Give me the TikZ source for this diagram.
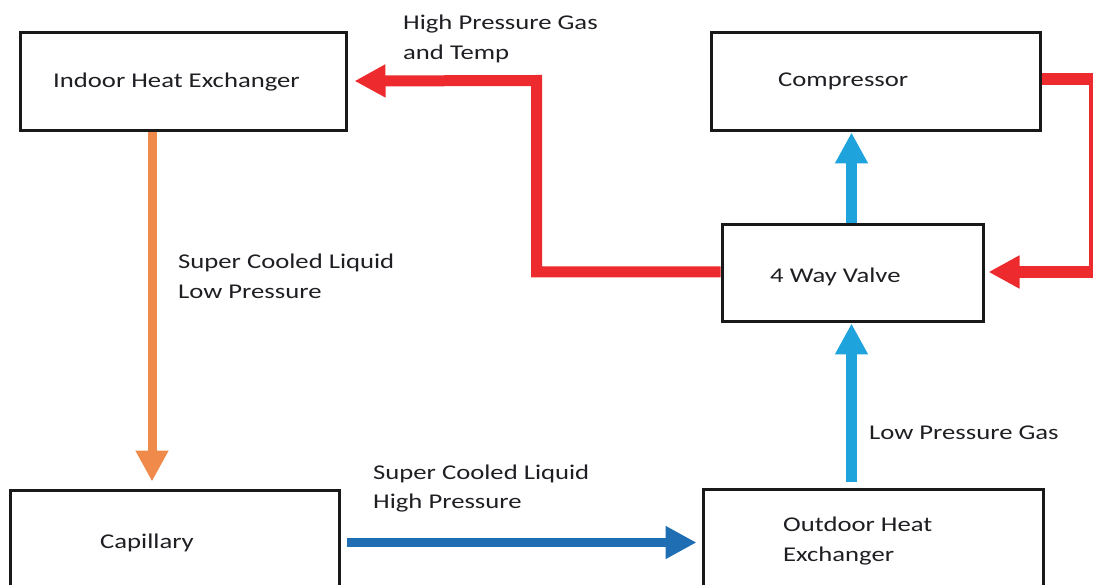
\documentclass[tikz,border=0pt]{standalone}
\usepackage{fontspec}
\setmainfont{Carlito}[FakeStretch=1.27]
\usetikzlibrary{arrows.meta}
\definecolor{cred}{RGB}{237,42,46}
\definecolor{corange}{RGB}{240,138,75}
\definecolor{cdblue}{RGB}{31,110,180}
\definecolor{clblue}{RGB}{31,163,220}
\definecolor{ctext}{RGB}{30,30,35}
\tikzset{
  box/.style={draw=black!90, line width=3pt, fill=white, inner sep=0pt},
  lbl/.style={inner sep=0pt, text=ctext, align=left, font=\fontsize{21pt}{29.5pt}\selectfont},
  flow/.style={line width=#1, line join=miter, line cap=butt, -{Triangle[length=31pt,width=31pt]}},
}
\begin{document}
\begin{tikzpicture}[x=1pt,y=-1pt]
\useasboundingbox (0,0) rectangle (1093,585);
\clip (0,0) rectangle (1093,585);
% boxes
\node[box, minimum width=326pt, minimum height=98pt] (indoor) at (183,82) {};
\node[box, minimum width=329pt, minimum height=98pt] (comp) at (875.5,82) {};
\node[box, minimum width=261pt, minimum height=97pt] (valve) at (852.5,273.5) {};
\node[box, minimum width=329pt, minimum height=120pt] (cap) at (174.5,550) {};
\node[box, minimum width=340pt, minimum height=120pt] (out) at (873,549) {};
% box texts (anchor = baseline of last line)
\node[lbl, anchor=base west] (indoor-t) at (53,88) {Indoor Heat Exchanger};
\node[lbl, anchor=base west] (comp-t) at (778,87) {Compressor};
\node[lbl, anchor=base west] (valve-t) at (770,283) {4 Way Valve};
\node[lbl, anchor=base west] (cap-t) at (100,548) {Capillary};
\node[lbl, anchor=base west] (out-t) at (783,561) {Outdoor Heat\\Exchanger};
% flow labels
\node[lbl, anchor=base west] (l-hp) at (403,59.5) {High Pressure Gas\\and Temp};
\node[lbl, anchor=base west] (l-sclp) at (178,298.5) {Super Cooled Liquid\\Low Pressure};
\node[lbl, anchor=base west] (l-schp) at (373,508.5) {Super Cooled Liquid\\High Pressure};
\node[lbl, anchor=base west] (l-lpg) at (869,439) {Low Pressure Gas};
% connectors
\draw[flow=12pt, cred] ([yshift=3]comp.east) -- ++(53,0) |- ([xshift=4,yshift=1.5]valve.east);
\draw[flow=11pt, cred] ([yshift=1.5]valve.west) -| ([xshift=-184,yshift=1.5]valve.west |- indoor.east) -- ([xshift=7,yshift=1]indoor.east);
\draw[flow=9pt, corange] ([xshift=-31]indoor.south) -- ([shift={(-22.5,-7)}]cap.north);
\draw[flow=9pt, cdblue] ([xshift=6,yshift=7.5]cap.east) -- ([shift={(-5,-6.5)}]out.west);
\draw[flow=11pt, clblue] ([shift={(-21.5,-6)}]out.north) -- ([xshift=-1]valve.south);
\draw[flow=11pt, clblue] ([xshift=-1]valve.north) -- ([xshift=-24]comp.south);
\end{tikzpicture}
\end{document}
